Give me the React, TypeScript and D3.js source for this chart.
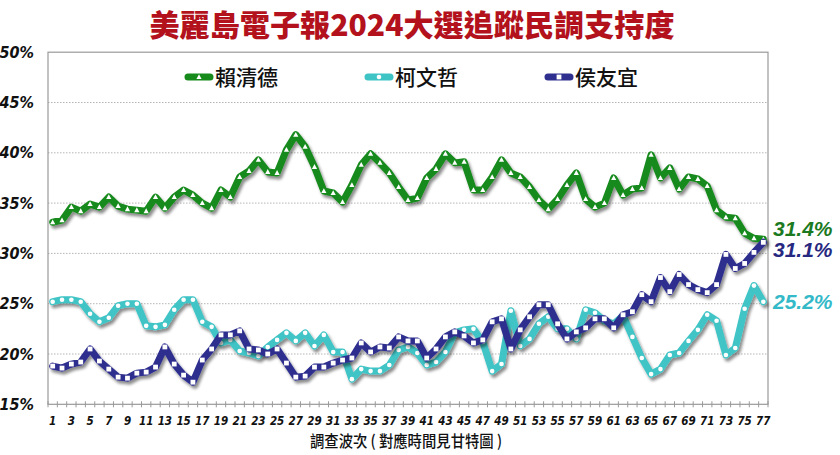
import React from "react";
import * as d3 from "d3";

// 調查波次 1..77
const waves = d3.range(1, 78);

const laiValues = [
  33.1, 33.3, 34.6, 34.2, 34.9, 34.6, 35.6, 34.7, 34.4, 34.3,
  34.2, 35.6, 34.5, 35.6, 36.3, 35.8, 35.0, 34.5, 36.3, 35.6,
  37.6, 38.2, 39.3, 38.1, 38.0, 40.3, 41.8, 40.6, 38.6, 36.2,
  36.0, 35.1, 36.8, 38.8, 39.9, 39.0, 38.0, 36.6, 35.3, 35.5,
  37.5, 38.4, 39.9, 39.0, 39.1, 36.3, 36.3, 37.6, 39.3, 38.0,
  37.6, 36.6, 35.3, 34.4, 35.4, 36.8, 38.0, 35.4, 34.6, 35.0,
  37.5, 35.8, 36.4, 36.5, 39.8, 37.5, 38.5, 36.4, 37.6, 37.4,
  36.7, 34.3, 33.6, 33.5, 32.0, 31.5, 31.4,
];

const koValues = [
  25.2, 25.4, 25.4, 25.2, 24.0, 23.2, 23.6, 24.8, 25.0, 25.0,
  22.8, 22.7, 22.9, 24.4, 25.4, 25.4, 23.2, 22.7, 21.1, 21.4,
  20.3, 20.1, 19.8, 20.7, 21.4, 22.1, 21.3, 22.1, 20.8, 21.9,
  20.2, 20.2, 17.5, 18.5, 18.3, 18.3, 18.9, 20.4, 20.7, 20.1,
  18.9, 19.2, 20.2, 22.1, 22.4, 22.5, 21.2, 18.3, 19.0, 24.3,
  20.8, 21.5, 23.0, 23.7, 22.5, 22.5, 21.5, 24.4, 24.1, 23.3,
  23.0, 23.8, 21.7, 19.6, 18.0, 18.5, 19.9, 20.1, 21.3, 22.4,
  23.9, 23.3, 19.9, 20.6, 24.5, 26.8, 25.2,
];

const houValues = [
  18.8, 18.6, 19.0, 19.2, 20.5, 19.3, 18.5, 17.7, 17.6, 18.1,
  18.2, 18.7, 20.7, 19.0, 17.9, 17.2, 19.4, 20.5, 21.9, 21.9,
  22.3, 20.5, 20.4, 20.0, 20.5, 19.1, 17.7, 17.8, 18.7, 18.7,
  19.1, 19.4, 19.6, 21.1, 20.2, 20.7, 20.6, 21.7, 21.3, 21.3,
  19.6, 20.5, 21.7, 22.2, 21.8, 21.1, 21.4, 23.2, 23.5, 20.5,
  22.4, 23.7, 24.9, 24.9, 23.0, 21.5, 22.2, 22.6, 23.5, 23.5,
  22.6, 23.9, 24.2, 25.9, 25.2, 27.6, 26.2, 27.9, 26.9, 26.4,
  26.1, 26.9, 29.9, 28.5, 29.0, 30.1, 31.1,
];

const yTicks = [15, 20, 25, 30, 35, 40, 45, 50];

const series = [
  { name: "柯文哲", values: koValues, color: "#3fc4c6", marker: "circle", end: "25.2%" },
  { name: "賴清德", values: laiValues, color: "#178a1c", marker: "triangle", end: "31.4%" },
  { name: "侯友宜", values: houValues, color: "#2e2f8f", marker: "square", end: "31.1%" },
];
const legendOrder = ["賴清德", "柯文哲", "侯友宜"];
const endLabelColor: Record<string, string> = {
  "賴清德": "#1b7a1f",
  "柯文哲": "#34b9c8",
  "侯友宜": "#27287f",
};

const W = 840;
const H = 455;
const left = 48, right = 768, top = 52.2, bottom = 404.3;

const numFont = "'Liberation Sans Narrow', 'Arial Narrow', 'DejaVu Sans Condensed', Arial, sans-serif";
const cjkFont = "'Noto Sans CJK TC', 'Noto Sans CJK SC', sans-serif";

function Marker({ type, x, y }: { type: string; x: number; y: number }) {
  if (type === "circle") return <circle cx={x} cy={y} r={2.3} fill="#fff" />;
  if (type === "square") return <rect x={x - 2.4} y={y - 2.4} width={4.8} height={4.8} fill="#fff" />;
  return <path d={`M${x},${y - 2.8}L${x + 2.6},${y + 2}L${x - 2.6},${y + 2}Z`} fill="#fff" />;
}

export default function App() {
  const x = d3.scalePoint<number>().domain(waves).range([left, right]).padding(0.5);
  const y = d3.scaleLinear().domain([15, 50]).range([bottom, top]);
  const step = x.step();

  const line = d3
    .line<number>()
    .x((_, i) => x(waves[i]) as number)
    .y((d) => y(d));

  const legendX: Record<string, number> = { "賴清德": 185, "柯文哲": 365, "侯友宜": 545 };

  return (
    <svg width={W} height={H} style={{ position: "absolute", left: 0, top: 0, background: "#fff" }}>
      <defs>
        <filter id="shadow" x="-5%" y="-20%" width="110%" height="140%">
          <feDropShadow dx="2" dy="3" stdDeviation="1.4" floodColor="#000" floodOpacity="0.45" />
        </filter>
      </defs>

      {/* title */}
      <text
        x={412}
        y={36}
        textAnchor="middle"
        fontFamily={cjkFont}
        fontWeight={900}
        fontSize={30}
        fill="#b3121c"
        textLength={525}
        lengthAdjust="spacingAndGlyphs"
      >
        美麗島電子報2024大選追蹤民調支持度
      </text>

      {/* grid */}
      {yTicks.slice(1, -1).map((t) => (
        <line key={t} x1={left} x2={right} y1={y(t)} y2={y(t)} stroke="#b5b5b5" strokeWidth={1} strokeDasharray="1.5 1.5" />
      ))}
      <rect x={left} y={top} width={right - left} height={bottom - top} fill="none" stroke="#9a9a9a" strokeWidth={1.2} />

      {/* y labels */}
      {yTicks.map((t) => (
        <text
          key={t}
          x={34}
          y={y(t) + 5.5}
          textAnchor="end"
          fontFamily={numFont}
          fontStyle="italic"
          fontWeight="bold"
          fontSize={16}
          fill="#111"
        >
          {t}%
        </text>
      ))}

      {/* x ticks */}
      {d3.range(waves.length + 1).map((i) => (
        <line
          key={i}
          x1={left + i * step}
          x2={left + i * step}
          y1={bottom - 3}
          y2={bottom + 3}
          stroke="#9a9a9a"
          strokeWidth={1}
        />
      ))}
      {waves
        .filter((w) => w % 2 === 1)
        .map((w) => (
          <text
            key={w}
            x={x(w)}
            y={425}
            textAnchor="middle"
            fontFamily={numFont}
            fontStyle="italic"
            fontWeight="bold"
            fontSize={11.5}
            fill="#111"
          >
            {w}
          </text>
        ))}
      <text
        x={406}
        y={447}
        textAnchor="middle"
        fontFamily={cjkFont}
        fontWeight={500}
        fontSize={16}
        fill="#111"
        textLength={192}
        lengthAdjust="spacingAndGlyphs"
      >
        調查波次 ( 對應時間見甘特圖 )
      </text>

      {/* series */}
      {series.map((s) => (
        <g key={s.name}>
          <path
            d={line(s.values) || ""}
            fill="none"
            stroke={s.color}
            strokeWidth={7}
            strokeLinejoin="round"
            strokeLinecap="round"
            filter="url(#shadow)"
          />
          {s.values.map((v, i) => (
            <Marker key={i} type={s.marker} x={x(waves[i]) as number} y={y(v)} />
          ))}
        </g>
      ))}

      {/* end labels */}
      {series.map((s) => {
        const v = s.values[s.values.length - 1];
        const off = s.name === "賴清德" ? -11 : s.name === "侯友宜" ? 7 : 0;
        return (
          <text
            key={s.name}
            x={773}
            y={y(v) + off + 7.5}
            fontFamily="Arial, 'Liberation Sans', sans-serif"
            fontStyle="italic"
            fontWeight="bold"
            fontSize={21}
            fill={endLabelColor[s.name]}
          >
            {s.end}
          </text>
        );
      })}

      {/* legend */}
      {legendOrder.map((name) => {
        const s = series.find((d) => d.name === name)!;
        const lx = legendX[name];
        return (
          <g key={name}>
            <line x1={lx + 3} x2={lx + 25} y1={77} y2={77} stroke={s.color} strokeWidth={7} strokeLinecap="round" />
            <Marker type={s.marker} x={lx + 14} y={77} />
            <text x={lx + 30} y={85} fontFamily={cjkFont} fontWeight={500} fontSize={21} fill="#111">
              {name}
            </text>
          </g>
        );
      })}
    </svg>
  );
}
